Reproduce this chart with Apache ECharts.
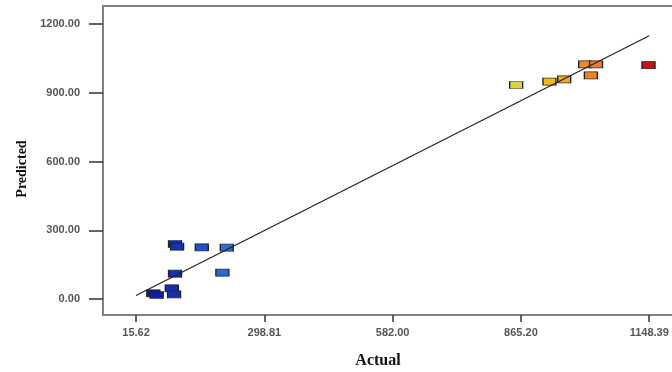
<!DOCTYPE html>
<html>
<head>
<meta charset="utf-8">
<script src="https://cdn.jsdelivr.net/npm/echarts@6/dist/echarts.min.js"></script>
<style>html,body{margin:0;padding:0;background:#fff}#c{width:672px;height:372px}</style>
</head>
<body>
<div id="c"></div>
<script>
// Actual vs Predicted
var actual    = [101.7, 106.2, 160.7, 215.9, 101.7, 206.2, 53.8, 61.3, 94.5, 99.5, 854.7, 928.2, 960.7, 1007.0, 1031.0, 1019.6, 1146.8];
var predicted = [240.0, 228.2, 225.6, 223.9, 110.4, 114.8, 24.9, 17.5, 46.7, 20.5, 933.8, 948.2, 958.7, 1024.0, 1024.0, 976.0, 1021.0];
var xTicks = [15.62, 298.81, 582.00, 865.20, 1148.39];
var yTicks = [0, 300, 600, 900, 1200];
var fitLine = [[15.62, 15.62], [1148.39, 1148.39]];

var points = actual.map(function (a, i) { return [a, predicted[i]]; });

var chart = echarts.init(document.getElementById('c'));
chart.setOption({
  animation: false,
  backgroundColor: '#fff',
  grid: {
    left: 103, top: 6, width: 590, height: 309,
    show: true, borderColor: '#808080', borderWidth: 2,
    outerBoundsMode: 'none'
  },
  visualMap: {
    show: false, type: 'continuous', dimension: 0, seriesIndex: 0,
    min: 15.62, max: 1148.39,
    inRange: { color: ['#0a0a88', '#1a3cc0', '#3080d8', '#30a8e0', '#30d0d0', '#40d080', '#80d040', '#c8e450', '#f0c020', '#f07828', '#c81010'] }
  },
  xAxis: {
    type: 'value', min: -57.3, max: 1245,
    name: 'Actual', nameLocation: 'middle', nameGap: 38,
    nameTextStyle: { fontFamily: 'Liberation Serif', fontWeight: 'bold', fontSize: 16, color: '#111', padding: [0, 40, 0, 0] },
    axisLine: { show: true, onZero: false, lineStyle: { color: '#808080', width: 2 } },
    splitLine: { show: false },
    axisTick: { show: true, customValues: xTicks, length: 7, inside: false, lineStyle: { color: '#333', width: 1.5 } },
    axisLabel: { customValues: xTicks, margin: 12, fontFamily: 'Liberation Sans', fontSize: 11, fontWeight: 'bold', color: '#555',
      formatter: function (v) { return v.toFixed(2); } }
  },
  yAxis: {
    type: 'value', min: -69.8, max: 1278.5,
    axisLine: { show: true, onZero: false, lineStyle: { color: '#808080', width: 2 } },
    splitLine: { show: false },
    axisTick: { show: true, customValues: yTicks, length: 14, inside: false, lineStyle: { color: '#333', width: 1.5 } },
    axisLabel: { customValues: yTicks, margin: 23, fontFamily: 'Liberation Sans', fontSize: 11, fontWeight: 'bold', color: '#555',
      formatter: function (v) { return v.toFixed(2); } }
  },
  graphic: [{
    type: 'text', x: 22, y: 169, rotation: Math.PI / 2,
    style: { text: 'Predicted', fontFamily: 'Liberation Serif', fontWeight: 'bold', fontSize: 14, fill: '#111', align: 'center', verticalAlign: 'middle' }
  }],
  series: [{
    type: 'scatter',
    data: points,
    symbol: 'rect',
    symbolSize: [13, 7],
    itemStyle: { borderColor: '#222', borderWidth: 1, opacity: 1 },
    z: 3
  }, {
    type: 'line',
    data: fitLine,
    symbol: 'none',
    lineStyle: { color: '#222', width: 1.2 },
    z: 4
  }]
});
</script>
</body>
</html>
